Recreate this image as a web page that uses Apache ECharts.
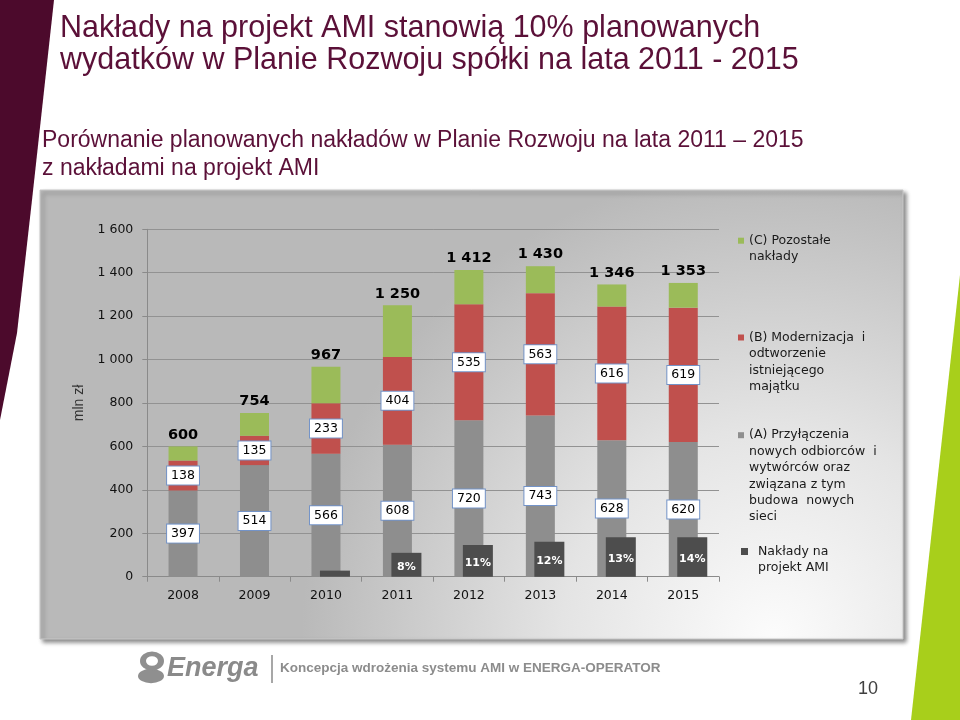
<!DOCTYPE html>
<html><head><meta charset="utf-8">
<script src="https://cdn.jsdelivr.net/npm/echarts@6/dist/echarts.min.js"></script>
<style>html,body{margin:0;padding:0;background:#fff}#c{width:960px;height:720px}</style>
</head><body><div id="c"></div>
<script>
// ---- data ----
const years = ['2008','2009','2010','2011','2012','2013','2014','2015'];
const seriesA = [397,514,566,608,720,743,628,620];
const seriesB = [138,135,233,404,535,563,616,619];
const seriesC = [65,105,168,238,157,124,102,114];
const totals = [600,754,967,1250,1412,1430,1346,1353];
const amiValues = [null,null,28,110,146,161,182,182];
const amiShare = ['','','','8%','11%','12%','13%','14%'];
const nameA = '(A) Przyłączenia nowych odbiorców i wytwórców oraz związana z tym budowa nowych sieci';
const nameB = '(B) Modernizacja i odtworzenie istniejącego majątku';
const nameC = '(C) Pozostałe nakłady';
const nameAMI = 'Nakłady na projekt AMI';
const linesA = ['(A) Przyłączenia','nowych odbiorców  i','wytwórców oraz','związana z tym','budowa  nowych','sieci'];
const linesB = ['(B) Modernizacja  i','odtworzenie','istniejącego','majątku'];
const linesC = ['(C) Pozostałe','nakłady'];
const linesAMI = ['Nakłady na','projekt AMI'];

const fmt = v => String(v).replace(/\B(?=(\d{3})+(?!\d))/g, ' ');
const LH = 16.4;
const wrap = lines => '\n'.repeat(lines.length - 1) + lines.join('\n');
function legendItem(name, lines, left, firstY, color, size, padLeft) {
  const h = (2 * lines.length - 1) * LH;
  return {
    data: [{name: name, icon: 'rect', itemStyle: {color: color}}],
    left: left, top: firstY - h / 2, padding: 0,
    itemWidth: size, itemHeight: size, selectedMode: false,
    formatter: () => wrap(lines),
    textStyle: {fontFamily: 'DejaVu Sans', fontSize: 12.5, lineHeight: LH, color: '#1a1a1a', padding: [0,0,0,padLeft]}
  };
}

const GL = 147.3, GR = 241, GT = 229.3, GB = 143.3, AMI_SHIFT = 9;
const boxLabel = {
  show: true, position: 'inside', color: '#000', fontFamily: 'DejaVu Sans', fontSize: 12.5,
  backgroundColor: '#fff', borderColor: '#7393c8', borderWidth: 1, padding: [3,4,2,4]
};

const chart = echarts.init(document.getElementById('c'), null, {renderer: 'canvas'});
chart.setOption({
  animation: false,
  backgroundColor: '#fff',
  title: [
    {text: 'Nakłady na projekt AMI stanowią 10% planowanych\nwydatków w Planie Rozwoju spółki na lata 2011 - 2015',
     left: 60, top: 13, padding: 0,
     textStyle: {fontFamily: 'Liberation Sans', fontSize: 30.5, fontWeight: 'normal', lineHeight: 32, color: '#5b1038'}},
    {text: 'Porównanie planowanych nakładów w Planie Rozwoju na lata 2011 – 2015\nz nakładami na projekt AMI',
     left: 42, top: 127, padding: 0,
     textStyle: {fontFamily: 'Liberation Sans', fontSize: 23, fontWeight: 'normal', lineHeight: 27.7, color: '#5b1038'}}
  ],
  legend: [
    legendItem(nameC, linesC, 738, 240.7, '#9bbb59', 6, 0),
    legendItem(nameB, linesB, 738, 337.5, '#c0504d', 6, 0),
    legendItem(nameA, linesA, 738, 435.2, '#8e8e8e', 6, 0),
    legendItem(nameAMI, linesAMI, 741, 551.5, '#4d4d4d', 7, 5)
  ],
  grid: [
    {left: GL, right: GR, top: GT, bottom: GB, containLabel: false},
    {left: GL + AMI_SHIFT, right: GR - AMI_SHIFT, top: GT, bottom: GB, containLabel: false}
  ],
  xAxis: [
    {type: 'category', gridIndex: 0, data: years,
     axisLine: {show: true, lineStyle: {color: '#8a8a8a', width: 1}},
     axisTick: {show: true, length: 5, interval: 0, lineStyle: {color: '#8a8a8a'}},
     axisLabel: {margin: 13, color: '#111', fontFamily: 'DejaVu Sans', fontSize: 12.5, interval: 0},
     splitLine: {show: false}},
    {type: 'category', gridIndex: 1, data: years, show: false}
  ],
  yAxis: [
    {type: 'value', gridIndex: 0, min: 0, max: 1600, interval: 200,
     name: 'mln zł', nameLocation: 'middle', nameGap: 59, nameRotate: 90,
     nameTextStyle: {fontFamily: 'Liberation Sans', fontSize: 14, color: '#333'},
     axisLine: {show: true, lineStyle: {color: '#8a8a8a', width: 1}},
     axisTick: {show: true, length: 5, lineStyle: {color: '#8a8a8a'}},
     axisLabel: {margin: 14, color: '#111', fontFamily: 'DejaVu Sans', fontSize: 12.5, formatter: v => fmt(v)},
     splitLine: {show: true, lineStyle: {color: '#929292', width: 1}}},
    {type: 'value', gridIndex: 1, min: 0, max: 1600, interval: 200, show: false, splitLine: {show: false}}
  ],
  series: [
    {name: nameA, type: 'bar', stack: 'plan', xAxisIndex: 0, yAxisIndex: 0, barWidth: 29,
     data: seriesA, itemStyle: {color: '#8e8e8e'}, label: boxLabel},
    {name: nameB, type: 'bar', stack: 'plan', xAxisIndex: 0, yAxisIndex: 0, barWidth: 29,
     data: seriesB, itemStyle: {color: '#c0504d'}, label: boxLabel},
    {name: nameC, type: 'bar', stack: 'plan', xAxisIndex: 0, yAxisIndex: 0, barWidth: 29,
     data: seriesC, itemStyle: {color: '#9bbb59'},
     label: {show: true, position: 'top', distance: 4, color: '#000', fontFamily: 'DejaVu Sans',
             fontWeight: 'bold', fontSize: 14.5, formatter: p => fmt(totals[p.dataIndex])}},
    {name: nameAMI, type: 'bar', xAxisIndex: 1, yAxisIndex: 1, barWidth: 30, z: 3,
     data: amiValues, itemStyle: {color: '#4d4d4d'},
     label: {show: true, position: 'inside', offset: [0, 2], color: '#fff', fontFamily: 'DejaVu Sans',
             fontWeight: 'bold', fontSize: 11, formatter: p => amiShare[p.dataIndex]}}
  ],
  graphic: [
    {type: 'polygon', z: -20, shape: {points: [[0,0],[54,0],[32,200],[17,333],[0,420]]}, style: {fill: '#4c0a2c'}},
    {type: 'polygon', z: -20, shape: {points: [[960,275],[960,720],[911,720]]}, style: {fill: '#a8cf1b'}},
    {type: 'rect', z: -10, shape: {x: 40, y: 190, width: 863, height: 449},
     style: {
       fill: new echarts.graphic.RadialGradient(0.85, 1.0, 1.05, [
         {offset: 0, color: '#fcfcfc'}, {offset: 0.45, color: '#e4e4e4'}, {offset: 1, color: '#b9b9b9'}]),
       stroke: '#c8c8c8', lineWidth: 1,
       shadowBlur: 4, shadowOffsetX: 3, shadowOffsetY: 3, shadowColor: 'rgba(0,0,0,0.45)'
     }},
    // footer logo
    {type: 'circle', z: 5, shape: {cx: 151, cy: 676, r: 13}, scaleY: 0.55, originX: 151, originY: 676, style: {fill: '#8f8f8f'}},
    {type: 'ring', z: 5, shape: {cx: 152, cy: 661, r: 12, r0: 6}, scaleY: 0.8, originX: 152, originY: 661, style: {fill: '#8f8f8f'}},
    {type: 'text', z: 5, style: {text: 'Energa', x: 167, y: 669, fontFamily: 'Liberation Sans', fontSize: 27,
      fontWeight: 'bold', fontStyle: 'italic', fill: '#8a8a8a', verticalAlign: 'middle'}},
    {type: 'line', z: 5, shape: {x1: 272, y1: 655, x2: 272, y2: 683}, style: {stroke: '#8a8a8a', lineWidth: 1.5}},
    {type: 'text', z: 5, style: {text: 'Koncepcja wdrożenia systemu AMI w ENERGA-OPERATOR', x: 280, y: 668,
      fontFamily: 'Liberation Sans', fontSize: 13.5, fontWeight: 'bold', fill: '#8c8c8c', verticalAlign: 'middle'}},
    {type: 'text', z: 5, style: {text: '10', x: 858, y: 689, fontFamily: 'Liberation Sans', fontSize: 18,
      fill: '#404040', verticalAlign: 'middle'}}
  ]
});
</script>
</body></html>
